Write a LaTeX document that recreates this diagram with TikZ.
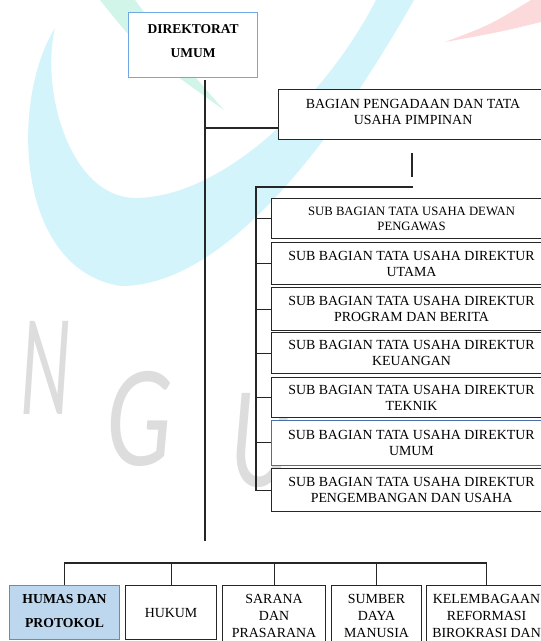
\documentclass[tikz,border=0pt]{standalone}
\usepackage{fontspec}
\setmainfont{Liberation Serif}
\newfontfamily\wmfont{Lato}
\usetikzlibrary{calc}
\definecolor{wmcyan}{HTML}{D3F4FB}
\definecolor{wmmint}{HTML}{D2F5EA}
\definecolor{wmpink}{HTML}{FCD9DA}
\definecolor{wmgray}{HTML}{DDDDDD}
\definecolor{dirblue}{HTML}{6FA8E6}
\definecolor{humasfill}{HTML}{BDD7EE}
\definecolor{humasline}{HTML}{6F8BAA}
\definecolor{umumline}{HTML}{4A70A8}
\tikzset{
  unit/.style={draw=black!85,line width=1.1pt,fill=white,anchor=north west,
    align=center,inner sep=0pt,font=\fontsize{13.9}{16}\selectfont},
  link/.style={line width=1.1pt,black!85},
  wm/.style={wmgray,font=\wmfont\itshape\fontsize{130}{130}\selectfont}
}

\begin{document}
\begin{tikzpicture}[x=1pt,y=-1pt]
\clip (0,0) rectangle (541,641);
\fill[white] (0,0) rectangle (541,641);
% watermark
\fill[wmcyan] (55,28) .. controls (10,100) and (15,270) .. (121,286)
  .. controls (230,286) and (340,130) .. (414,0) -- (376,0)
  .. controls (330,90) and (230,195) .. (138,198)
  .. controls (70,200) and (40,90) .. (55,28) -- cycle;
\fill[wmmint] (100,0) .. controls (140,50) .. (224,110) .. controls (180,60) .. (135,0) -- cycle;
\fill[wmpink] (445,42) .. controls (490,25) .. (531,0) -- (541,0) -- (541,22) .. controls (500,32) .. (445,42) -- cycle;
\node[wm,xscale=.55] (wmN) at (46,368) {N};
\node[wm,xscale=.75] (wmG) at (140,419) {G};
\node[wm,xscale=.7] (wmU) at (262,440) {U};
% direktorat
\node[unit,draw=dirblue,line width=1.3pt,minimum width=129pt,minimum height=65pt,text depth=8pt,
  font=\bfseries\fontsize{13.5}{24}\selectfont] (dir) at (128,12) {DIREKTORAT\\UMUM};
\coordinate (top) at (205,80);
\coordinate (bot) at (205,541);
\draw[link] (top) -- (bot);
% bagian
\node[unit,minimum width=269pt,minimum height=50pt,text depth=6pt] (bag) at (278,89) {BAGIAN PENGADAAN DAN TATA\\USAHA PIMPINAN};
\coordinate (bagjoin) at (205,128);
\draw[link] (bagjoin) -- (bagjoin -| bag.west);
\coordinate (bagtail) at (412,153);
\draw[link] (bagtail) -- ++(0,24);
% sub bagian
\node[unit,minimum width=280pt,minimum height=40pt,font=\fontsize{12.7}{15}\selectfont] (s1) at (271,198)
  {SUB BAGIAN TATA USAHA DEWAN\\PENGAWAS};
\foreach \n/\t/\h/\txt in {s2/242/42/UTAMA,s3/287/43/PROGRAM DAN BERITA,s4/332/41/KEUANGAN,
  s5/377/40/TEKNIK,s7/468/43/PENGEMBANGAN DAN USAHA}
  \node[unit,minimum width=280pt,minimum height=\h pt] (\n) at (271,\t) {SUB BAGIAN TATA USAHA DIREKTUR\\\txt};
\node[unit,draw=umumline,line width=.8pt,minimum width=280pt,minimum height=45pt] (s6) at (271,420)
  {SUB BAGIAN TATA USAHA DIREKTUR\\UMUM};
\coordinate (subtop) at (413,187);
\coordinate (subbus) at (256,187);
\draw[link] (subtop) -- (subbus) |- (s7.west);
\foreach \n in {s1,s2,s3,s4,s5,s6}
  \draw[link] (subbus |- \n.west) -- (\n.west);
% bawah
\node[unit,fill=humasfill,draw=humasline,minimum width=110pt,minimum height=54pt,text depth=4pt,
  font=\bfseries\fontsize{13.7}{24}\selectfont] (hm) at (9,585) {HUMAS DAN\\PROTOKOL};
\node[unit,minimum width=91pt,minimum height=54pt] (hk) at (125,585) {HUKUM};
\node[unit,minimum width=103pt,minimum height=60pt,font=\fontsize{13.9}{17}\selectfont] (sp) at (222,585) {SARANA\\DAN\\PRASARANA};
\node[unit,minimum width=90pt,minimum height=60pt,font=\fontsize{13.9}{17}\selectfont] (sm) at (331,585) {SUMBER\\DAYA\\MANUSIA};
\node[unit,minimum width=120pt,minimum height=60pt,font=\fontsize{13.9}{17}\selectfont] (kl) at (426,585) {KELEMBAGAAN\\REFORMASI\\BIROKRASI DAN};
\draw[link] (hm.north) -- ++(0,-22) -| (kl.north);
\foreach \n in {hk,sp,sm}
  \draw[link] (\n.north) -- ++(0,-22);
\end{tikzpicture}
\end{document}
